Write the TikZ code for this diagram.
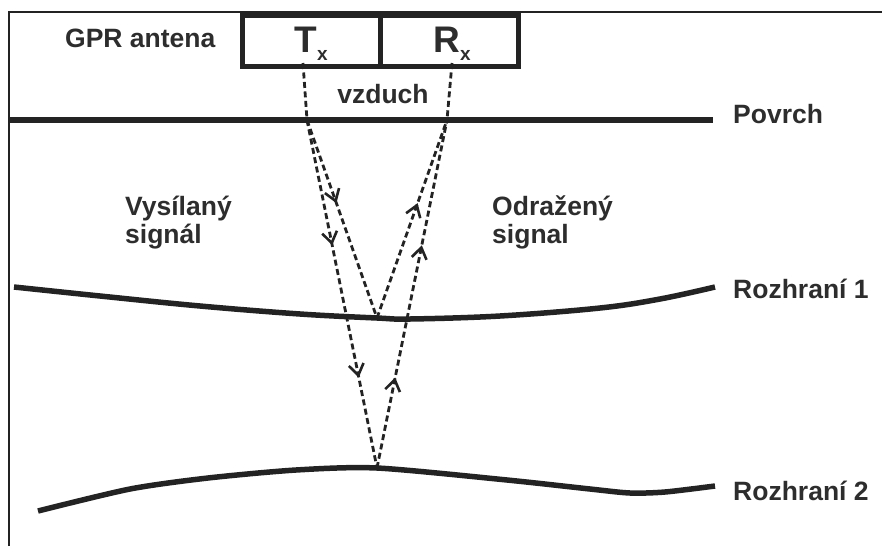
\documentclass[tikz,border=0pt]{standalone}
\usepackage{fontspec}
\setmainfont{Liberation Sans}
\usetikzlibrary{arrows.meta,decorations.markings}
\definecolor{ink}{RGB}{35,35,35}
\definecolor{txt}{RGB}{45,45,45}
\begin{document}
\begin{tikzpicture}[x=1pt,y=-1pt,
  lbl/.style={font=\fontsize{26.5}{28}\selectfont\bfseries, text=txt, inner sep=0pt},
  surface/.style={line width=5.5pt, draw=ink},
  boxpart/.style={draw=ink, line width=5pt, minimum width=138pt, minimum height=51pt, inner sep=0pt},
  ray/.style={draw=ink, line width=2.8pt, dash pattern=on 6pt off 3.5pt},
  tip/.style={postaction={decorate, decoration={markings, mark=at position #1 with {\arrow[ink]{Straight Barb[length=11pt,width=15pt,line width=2.6pt]}}}}},
]
\useasboundingbox (0,0) rectangle (882,546);
% frame
\draw[line width=1.2pt, ink] (9,546) -- (9,12) -- (882,12);
% antenna
\node[boxpart] (txbox) at (311,40.5) {};
\node[boxpart] (rxbox) at (449,40.5) {};
\node[anchor=base, inner sep=0pt, text=txt, font=\bfseries] (txl) at (311,52)
  {{\fontsize{37}{40}\selectfont T}\raisebox{-8pt}{\fontsize{19}{20}\selectfont x}};
\node[anchor=base, inner sep=0pt, text=txt, font=\bfseries] (rxl) at (452,52)
  {{\fontsize{37}{40}\selectfont R}\raisebox{-8pt}{\fontsize{19}{20}\selectfont x}};
\node[lbl, anchor=base west] (gpr) at (65,47) {GPR antena};
\node[lbl, anchor=base] (air) at (383,103) {vzduch};
% surface and interfaces
\draw[surface] (8,120) -- (713,120);
\node[lbl, anchor=base west] (povrch) at (733,123) {Povrch};
\draw[surface] plot[smooth, tension=0.6] coordinates {(14,287) (100,296) (200,306) (300,314) (377,318) (410,319) (500,316) (600,308) (660,299) (715,287)};
\node[lbl, anchor=base west] (roz1) at (733,298) {Rozhraní 1};
\draw[surface] plot[smooth, tension=0.45] coordinates {(38,511) (130,489) (208,478) (296,470) (377,468) (507,480) (590,489) (630,493) (665,492) (715,486)};
\node[lbl, anchor=base west] (roz2) at (733,500) {Rozhraní 2};
% side labels
\node[lbl, anchor=base west, align=left] (vys) at (125,243) {Vysílaný\\signál};
\node[lbl, anchor=base west, align=left] (odr) at (492,243) {Odražený\\signal};
% rays
\coordinate (txb) at (303,63);
\coordinate (txs) at (307,120);
\coordinate (rxb) at (452,63);
\coordinate (rxs) at (447,120);
\coordinate (r1) at (377,318);
\coordinate (r2) at (377,468);
\draw[ray] (txb) -- (txs);
\draw[ray] (rxb) -- (rxs);
\draw[ray, tip=0.42] (txs) -- (r1);
\draw[ray, tip=0.36, tip=0.74] (txs) -- (r2);
\draw[ray, tip=0.58] (r1) -- (rxs);
\draw[ray, tip=0.26, tip=0.64] (r2) -- (rxs);
\end{tikzpicture}
\end{document}
